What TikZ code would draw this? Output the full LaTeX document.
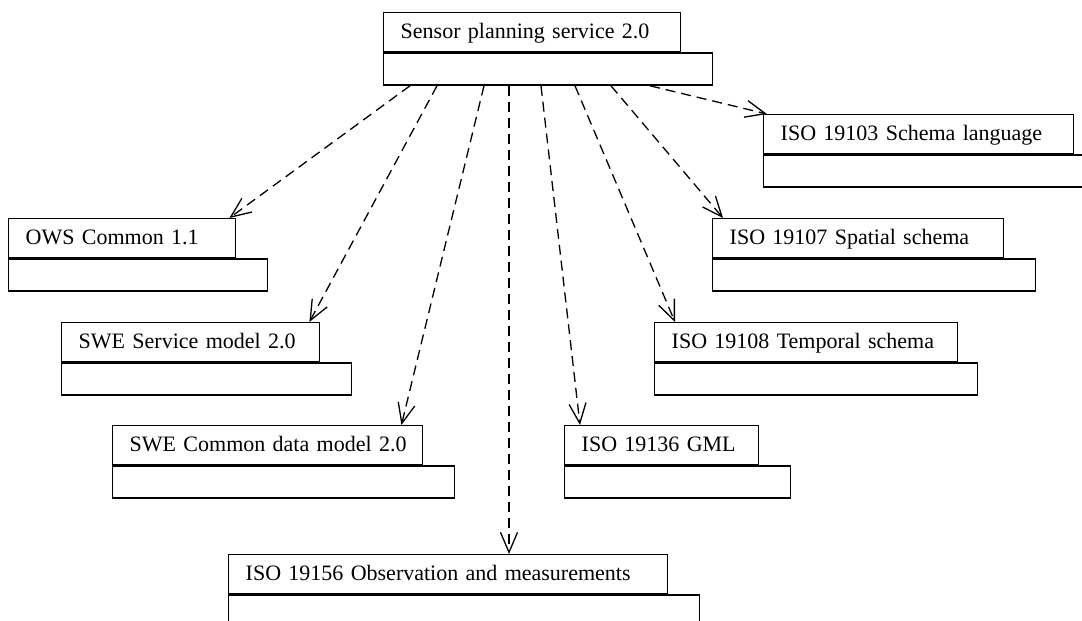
\documentclass[tikz,border=0pt]{standalone}
\usepackage{fontspec}
\setmainfont{Liberation Serif}
\usetikzlibrary{arrows.meta,calc}

\newcommand\pkgfont{\fontsize{22}{24}\selectfont}

% UML package: a labelled tab on top of an empty body
% #1 name, #2 x, #3 y, #4 tab width, #5 body overhang, #6 label
\newcommand\umlpkg[6]{%
  \pgfmathsetmacro\pkgtw{#4-34}%
  \pgfmathsetmacro\pkgbw{#4+#5}%
  \node[pkgtab, minimum width=#4pt, text width=\pkgtw pt] (#1) at (#2,#3) {\mbox{#6}};
  \node[pkgbody, minimum width=\pkgbw pt] (#1-b) at (#1.south west) {};
}

\tikzset{
  pkgtab/.style={draw, line width=1.4pt, anchor=north west, minimum height=39pt,
    inner xsep=17pt, inner ysep=0pt, text height=12pt, text depth=0pt,
    align=left, font=\pkgfont},
  pkgbody/.style={draw, line width=1.4pt, anchor=north west, minimum height=32pt,
    inner sep=0pt},
  dep/.style={line width=1.3pt, dash pattern=on 10pt off 6pt,
    -{Straight Barb[length=20pt,width=17pt,line width=1.3pt]}},
}

\begin{document}
\begin{tikzpicture}[x=1pt,y=-1pt]
\clip (0,0) rectangle (1082,621);

\umlpkg{sps}{383}{12}{297}{32}{Sensor planning service 2.0}
\umlpkg{sl}{763}{114}{310}{32}{ISO 19103 Schema language}
\umlpkg{ows}{8}{218}{227}{32}{OWS Common 1.1}
\umlpkg{spat}{712}{218}{291}{32}{ISO 19107 Spatial schema}
\umlpkg{sws}{61}{322}{258}{32}{SWE Service model 2.0}
\umlpkg{temp}{654}{322}{303}{20}{ISO 19108 Temporal schema}
\umlpkg{swec}{112}{425}{310}{32}{SWE Common data model 2.0}
\umlpkg{gml}{564}{425}{194}{32}{ISO 19136 GML}
\umlpkg{om}{228}{554}{439}{32}{ISO 19156 Observation and measurements}

% dependencies
\draw[dep] ($(sps-b.south west)+(27,0)$)  -- ($(ows.north east)+(-7,0)$);
\draw[dep] ($(sps-b.south west)+(54,0)$)  -- ($(sws.north east)+(-11,0)$);
\draw[dep] ($(sps-b.south west)+(101,0)$) -- ($(swec.north east)+(-22,0)$);
\draw[dep] ($(sps-b.south west)+(126,0)$) -- ($(om.north west)+(281,0)$);
\draw[dep] ($(sps-b.south west)+(158,0)$) -- ($(gml.north west)+(16,0)$);
\draw[dep] ($(sps-b.south west)+(192,0)$) -- ($(temp.north west)+(21,0)$);
\draw[dep] ($(sps-b.south west)+(228,0)$) -- ($(spat.north west)+(11,0)$);
\draw[dep] ($(sps-b.south west)+(267,0)$) -- ($(sl.north west)+(4,0)$);
\end{tikzpicture}
\end{document}
